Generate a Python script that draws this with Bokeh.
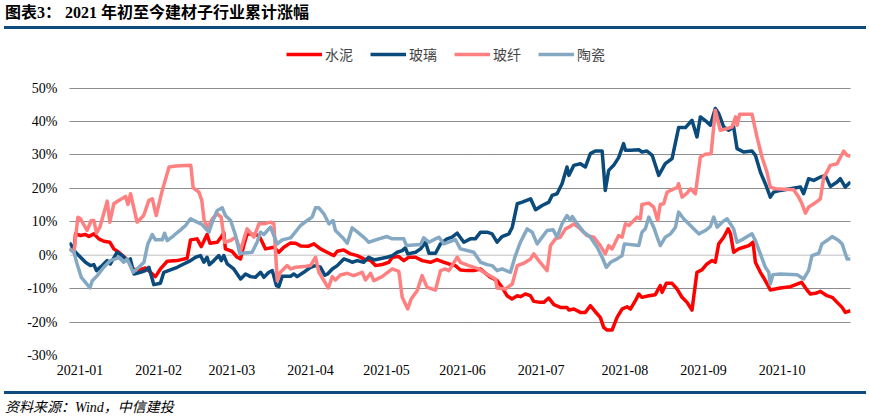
from bokeh.plotting import figure
from bokeh.layouts import column
from bokeh.models import Range1d, FixedTicker, Legend, LegendItem, Span, Div
from bokeh.embed import file_html
from bokeh.resources import INLINE

# ---- data: x = days since 2021-01-01, y = cumulative change (%) ----
cement_day = [3, 4.7, 5.3, 7.2, 9.1, 10.4, 12.3, 14.2, 16.1, 18.4,
              19.9, 21.8, 23.7, 25.6, 26.9, 29.5, 32.0, 33.9, 35.8, 37.7,
              40.3, 44.1, 47.9, 49.2, 51.7, 53.3, 55.5, 56.6, 59.4, 60.9,
              61.9, 62.5, 65.0, 67.0, 68.3, 69.5, 70.8, 73.4, 75.3, 76.6,
              77.8, 81.0, 82.9, 84.8, 87.4, 89.3, 91.2, 94.3, 96.3, 98.8,
              101.3, 103.9, 105.2, 107.7, 110.3, 112.8, 115.3, 117.9, 119.8, 122.3,
              124.9, 126.2, 128.7, 130.6, 132.5, 135.1, 137.6, 140.8, 143.3, 145.9,
              147.8, 150.3, 152.2, 154.8, 157.3, 159.9, 161.8, 163.7, 166.2, 168.1,
              170.0, 171.9, 173.9, 175.1, 177.0, 178.9, 180.2, 182.7, 184.0, 185.9,
              187.9, 190.4, 192.9, 193.6, 195.5, 198.0, 199.9, 201.8, 203.7, 205.6,
              206.9, 208.2, 210.1, 212.0, 213.9, 215.8, 217.1, 219.0, 220.3, 221.5,
              224.1, 226.6, 228.5, 229.2, 230.8, 233.0, 234.9, 236.8, 238.7, 240.6,
              242.5, 244.4, 246.3, 248.3, 249.5, 250.8, 252.7, 254.4, 255.3, 256.5,
              258.4, 260.3, 262.3, 263.9, 264.8, 266.7, 268.6, 270.5, 274.3, 278.2,
              282.4, 284.5, 285.8, 287.7, 289.6, 292.1, 294.1, 296.0, 297.9, 299.1,
              301.1]
cement_pct = [1.9, 1.2, 6.4, 5.9, 6.2, 5.6, 6.4, 4.9, 4.2, 3.9,
              1.9, 0.9, -0.4, -1.6, -4.1, -4.4, -3.8, -5.1, -6.4, -4.1,
              -1.8, -1.6, -0.9, 4.6, 4.9, 2.6, 6.2, 3.6, 3.9, 5.4,
              6.8, 1.9, 1.2, -0.6, -1.1, 2.9, 6.4, 6.2, 5.9, 3.9,
              1.9, 2.4, 0.9, 2.4, 3.7, 3.6, 2.8, 2.7, 3.4, 1.9,
              0.9, -0.1, 1.2, 1.6, 0.4, -0.1, -1.1, -1.6, -3.1, -2.8,
              -2.1, -0.6, -0.4, -1.6, -0.6, -0.6, -1.6, -2.1, -1.3, -2.1,
              -2.6, -3.1, -4.4, -4.6, -4.6, -4.1, -5.4, -6.6, -7.6, -9.6,
              -12.1, -13.1, -12.1, -12.4, -11.6, -12.1, -13.8, -14.1, -14.1, -12.8,
              -14.8, -15.6, -15.6, -16.4, -16.1, -17.1, -17.1, -15.1, -16.9, -18.6,
              -21.6, -22.4, -22.4, -18.6, -16.1, -15.4, -16.1, -13.6, -11.6, -12.6,
              -12.1, -11.8, -9.1, -11.1, -8.4, -8.4, -10.1, -12.6, -14.1, -16.4,
              -5.1, -4.4, -2.6, -1.6, -2.1, 3.4, 5.4, 7.9, 6.4, 0.9,
              1.9, 2.4, 2.9, 3.9, -2.1, -5.1, -7.6, -10.4, -9.8, -9.4,
              -8.1, -10.4, -11.6, -11.4, -10.8, -12.1, -12.6, -14.1, -15.6, -17.1,
              -16.6]

glass_day = [3, 4, 5.3, 7.2, 9.1, 11.0, 12.3, 13.3, 14.0, 15.5,
             17.4, 18.6, 21.2, 23.1, 25.0, 26.2, 27.6, 30.1, 32.0, 33.3,
             35.2, 37.7, 39.0, 41.5, 44.1, 46.6, 49.2, 51.1, 53.0, 54.3,
             55.5, 56.4, 58.1, 60.0, 60.9, 61.9, 63.2, 65.7, 68.3, 70.2,
             72.1, 74.0, 75.9, 77.2, 79.1, 80.4, 82.0, 82.9, 84.2, 87.4,
             88.6, 89.9, 92.4, 95.0, 96.9, 98.8, 100.5, 101.5, 103.3, 105.2,
             107.7, 109.6, 110.9, 112.8, 115.3, 117.2, 119.2, 124.2, 126.2, 128.1,
             130.0, 131.2, 132.1, 135.1, 137.0, 138.9, 140.2, 142.7, 144.6, 147.1,
             149.0, 151.0, 153.5, 156.0, 157.9, 159.9, 162.4, 164.3, 166.2, 168.1,
             170.7, 172.0, 173.9, 175.8, 179.0, 180.9, 183.4, 186.0, 187.2, 189.1,
             191.0, 192.9, 193.6, 195.5, 198.0, 199.9, 201.8, 203.7, 206.3, 207.5,
             208.8, 210.7, 212.6, 214.5, 215.2, 217.1, 220.3, 221.5, 223.4, 225.4,
             227.9, 230.4, 233.0, 235.5, 238.1, 240.6, 242.5, 243.8, 246.3, 247.6,
             249.5, 250.8, 252.7, 254.6, 256.5, 257.8, 260.3, 263.5, 264.8, 266.7,
             268.6, 270.5, 271.8, 274.3, 282.0, 283.2, 285.1, 287.1, 289.6, 291.5,
             293.4, 296.0, 297.2, 299.1, 301.1]
glass_pct = [3.7, 2.7, 0.9, -0.6, -2.1, -3.1, -2.8, -4.6, -4.1, -3.1,
             -1.6, -2.6, 0.9, -0.1, -1.6, -1.1, -5.6, -5.1, -4.6, -3.6,
             -8.8, -8.4, -5.1, -4.4, -3.6, -2.6, -1.6, -0.6, -0.1, -2.1,
             -0.6, -2.8, -1.6, -0.1, -1.6, -0.1, -2.6, -4.1, -7.1, -5.6,
             -6.4, -6.6, -5.1, -6.6, -5.1, -4.6, -9.1, -9.4, -6.3, -6.3,
             -5.6, -6.4, -5.1, -3.6, -3.1, -3.6, -6.0, -5.6, -4.1, -3.1,
             -1.1, -1.6, -2.1, -1.6, -2.1, -0.6, -1.4, -0.6, -0.1, 0.9,
             1.4, 2.2, 0.4, 0.9, 1.9, 3.9, 0.6, 0.6, 3.4, 4.9,
             5.4, 6.6, 3.9, 4.9, 4.9, 6.9, 6.9, 6.4, 3.9, 5.6,
             6.4, 8.4, 15.4, 15.9, 16.9, 13.6, 14.9, 15.9, 17.9, 18.4,
             21.4, 26.4, 23.9, 26.9, 27.4, 26.4, 30.4, 31.2, 31.2, 19.4,
             25.4, 26.9, 29.2, 33.4, 31.4, 31.4, 31.6, 30.9, 31.2, 29.9,
             23.9, 27.4, 28.9, 38.2, 38.2, 40.4, 35.4, 41.4, 39.9, 38.9,
             43.9, 42.4, 38.4, 37.4, 38.4, 31.9, 30.9, 31.2, 29.9, 24.9,
             21.4, 17.4, 18.9, 19.4, 20.4, 18.4, 22.9, 22.4, 23.4, 23.9,
             20.6, 21.9, 22.9, 20.4, 21.9]

fiber_day = [3, 4.7, 6.2, 7.2, 9.7, 11.3, 12.3, 13.3, 14.6, 17.4,
             18.4, 19.9, 21.8, 24.4, 25.3, 26.3, 28.8, 31.3, 33.3, 34.6,
             36.1, 38.4, 41.0, 43.6, 49.3, 50.2, 52.4, 53.5, 54.4, 55.8,
             57.5, 59.4, 60.9, 62.2, 64.5, 66.4, 68.3, 70.2, 70.8, 73.4,
             75.3, 77.2, 79.7, 81.0, 82.3, 83.5, 86.1, 87.4, 89.3, 92.4,
             95.0, 96.9, 98.2, 100.1, 101.8, 103.3, 104.5, 106.4, 109.0, 111.5,
             114.7, 116.0, 117.9, 119.2, 122.3, 126.2, 128.7, 130.0, 132.1, 133.4,
             135.7, 137.6, 139.5, 142.7, 144.6, 146.5, 147.8, 151.0, 152.2, 155.4,
             159.2, 161.1, 165.6, 166.2, 169.4, 172.0, 173.9, 176.4, 179.0, 180.2,
             182.1, 185.3, 186.6, 188.5, 190.4, 192.3, 193.6, 195.5, 197.5, 200.5,
             203.1, 205.6, 207.5, 208.8, 210.1, 212.6, 213.9, 215.2, 216.5, 218.4,
             219.6, 220.9, 221.5, 224.1, 226.0, 227.5, 228.5, 229.8, 231.1, 233.0,
             234.9, 235.5, 236.8, 238.7, 240.0, 241.9, 243.8, 245.7, 247.9, 249.5,
             251.4, 254.0, 255.9, 257.2, 257.8, 258.8, 263.5, 265.4, 267.3, 269.2,
             270.5, 272.4, 279.4, 281.3, 282.6, 283.9, 285.1, 287.1, 289.6, 290.9,
             292.1, 293.4, 296.0, 298.5, 299.8, 301.1]
fiber_pct = [1.9, 0.9, 11.4, 10.9, 7.4, 10.4, 10.4, 6.6, 8.4, 16.2,
             9.9, 15.4, 16.4, 17.6, 15.2, 18.4, 9.9, 11.9, 16.4, 16.9,
             11.9, 19.4, 26.4, 26.7, 26.9, 20.2, 18.9, 16.4, 10.4, 8.4,
             10.9, 12.4, 11.4, 3.9, 4.4, 5.4, 1.4, 6.4, 7.9, 5.4,
             9.4, 9.4, 9.9, 9.4, -7.6, -5.1, -3.1, -4.1, -3.6, -3.4,
             -3.1, -0.6, -5.1, -7.6, -9.8, -6.4, -7.4, -5.9, -5.4, -6.1,
             -5.1, -7.4, -5.4, -7.6, -6.4, -4.1, -4.8, -12.6, -16.1, -13.1,
             -10.6, -6.1, -9.6, -10.4, -4.6, -4.1, -4.6, -0.6, -2.1, -3.1,
             -4.1, -5.1, -7.1, -9.8, -10.1, -8.6, -3.1, -2.4, -1.1, 0.4,
             -1.6, -4.6, 2.9, 4.9, 5.4, 7.9, 8.4, 9.4, 8.2, 5.9,
             5.4, 2.9, 0.4, 2.9, 1.9, 5.9, 5.4, 9.4, 8.9, 10.4,
             11.4, 10.9, 15.2, 15.6, 14.4, 10.4, 15.2, 15.4, 18.9, 19.6,
             20.2, 21.4, 17.4, 18.6, 19.9, 18.4, 29.4, 30.2, 30.4, 43.4,
             37.4, 37.9, 38.4, 41.4, 38.9, 42.2, 42.2, 35.4, 29.4, 24.9,
             20.4, 19.9, 19.6, 17.4, 15.4, 12.6, 14.4, 15.4, 16.9, 23.4,
             24.9, 26.9, 27.4, 31.2, 29.9, 29.6]

ceramic_day = [3, 4.7, 5.9, 7.5, 9.1, 10.8, 11.7, 13.6, 16.1, 18.6,
               20.6, 21.8, 23.7, 25.0, 27.3, 29.5, 31.4, 32.9, 34.6, 35.8,
               38.4, 39.3, 40.3, 42.8, 45.4, 47.3, 49.2, 51.7, 53.6, 56.2,
               57.5, 59.4, 61.3, 62.5, 64.5, 66.4, 68.0, 69.5, 72.7, 74.6,
               75.9, 77.2, 79.7, 82.3, 84.2, 87.4, 91.2, 93.7, 95.6, 96.9,
               98.2, 100.1, 102.0, 103.6, 104.5, 107.1, 109.0, 110.9, 113.4, 116.0,
               117.2, 121.1, 124.2, 126.2, 130.6, 131.6, 137.0, 138.2, 140.2, 142.7,
               144.0, 145.9, 150.3, 152.2, 154.8, 157.3, 159.9, 162.4, 164.3, 166.2,
               168.1, 171.3, 173.2, 175.1, 177.7, 179.6, 181.5, 185.3, 187.6, 189.1,
               191.0, 192.9, 194.2, 194.9, 196.8, 199.3, 201.8, 204.4, 206.3, 207.9,
               209.5, 212.0, 213.9, 214.8, 220.3, 221.5, 222.8, 224.1, 226.0, 227.3,
               228.5, 230.4, 232.4, 234.3, 235.5, 237.4, 240.0, 241.9, 243.2, 245.7,
               247.6, 248.9, 250.2, 252.1, 254.0, 256.5, 257.8, 260.3, 263.5, 264.8,
               266.7, 268.6, 269.9, 270.5, 271.5, 274.3, 280.7, 283.2, 285.1, 286.4,
               289.0, 290.2, 292.1, 294.1, 296.6, 297.9, 299.8, 301.1]
ceramic_pct = [1.9, 0.9, -2.6, -6.6, -8.1, -9.8, -7.6, -6.1, -3.6, -1.6,
               -1.1, -0.6, -2.1, -1.1, -5.1, -3.6, -2.1, 3.4, 6.2, 4.6,
               4.6, 6.6, 4.4, 5.9, 7.6, 8.9, 10.9, 9.9, 9.2, 6.9,
               9.9, 13.4, 14.2, 11.9, 10.4, 5.9, 0.4, 0.7, 0.9, 3.9,
               6.9, 6.2, 8.4, 3.4, 4.6, 5.2, 8.9, 10.4, 11.4, 14.2,
               14.2, 12.4, 9.4, 10.4, 7.4, 5.4, 3.6, 8.2, 6.6, 4.9,
               3.9, 4.9, 5.6, 4.9, 4.9, 2.9, 3.2, 5.2, 3.9, 4.9,
               5.4, 3.4, 4.7, 1.9, 1.4, 0.9, -2.1, -2.8, -3.1, -4.6,
               -4.1, -5.1, -0.1, 3.9, 7.9, 6.9, 3.4, 7.4, 7.6, 5.4,
               9.4, 11.9, 10.4, 11.6, 9.4, 6.9, 5.4, 2.4, -0.6, -3.6,
               -2.1, -1.1, -0.1, 3.4, 2.9, 6.9, 7.9, 11.4, 8.4, 5.4,
               2.9, 5.4, 6.4, 8.4, 12.9, 10.9, 8.9, 7.4, 6.4, 7.4,
               8.6, 11.4, 8.4, 9.9, 10.9, 7.9, 3.9, 4.9, 6.4, 4.4,
               0.4, -3.6, -5.1, -8.6, -5.8, -5.6, -5.8, -7.1, -4.6, -0.1,
               0.6, 3.4, 4.4, 5.6, 4.4, 3.4, -1.1, -1.1]

series_names = ["水泥", "玻璃", "玻纤", "陶瓷"]
tick_days = [7, 37, 65, 95, 124, 153, 183, 215, 245, 275]
tick_labels = ["2021-01", "2021-02", "2021-03", "2021-04", "2021-05",
               "2021-06", "2021-07", "2021-08", "2021-09", "2021-10"]
y_ticks = [-30, -20, -10, 0, 10, 20, 30, 40, 50]

title_text = "图表3： 2021 年初至今建材子行业累计涨幅"
source_text = "资料来源：Wind，中信建投"

# ---- styling ----
W = 869
H_TOP, H_MAIN, H_BOT = 40, 344, 34
FONT_CSS = "'Liberation Serif', 'Noto Sans CJK SC'"
colors = ["#FF0000", "#0A4B7C", "#FF8080", "#85A8C3"]
BAR = "#0E4B7E"

top_html = (
    f'<div style="position:relative;width:{W}px;height:{H_TOP}px;margin:0;padding:0;">'
    f'<div style="position:absolute;left:5px;top:4px;font-family:{FONT_CSS};'
    f'font-weight:bold;font-size:16px;line-height:18px;color:#000;white-space:nowrap;">'
    f'{title_text}</div>'
    f'<div style="position:absolute;left:4px;top:25.5px;width:862px;height:3px;'
    f'background:{BAR};"></div></div>'
)
bot_html = (
    f'<div style="position:relative;width:{W}px;height:{H_BOT}px;margin:0;padding:0;">'
    f'<div style="position:absolute;left:4px;top:6.5px;width:862px;height:3px;'
    f'background:{BAR};"></div>'
    f'<div style="position:absolute;left:5px;top:16px;font-family:{FONT_CSS};'
    f'font-style:italic;font-size:14px;line-height:16px;color:#000;white-space:nowrap;">'
    f'{source_text}</div></div>'
)
top = Div(text=top_html, width=W, height=H_TOP, margin=0)
bot = Div(text=bot_html, width=W, height=H_BOT, margin=0)

# main chart: the frame reaches up to the header so the legend sits inside it
p = figure(width=W, height=H_MAIN, output_backend="svg", toolbar_location=None,
           x_range=Range1d(3, 301.1), y_range=Range1d(-30, 64.26),
           min_border_left=69, min_border_right=19,
           min_border_top=0, min_border_bottom=29)
p.outline_line_color = None
p.xgrid.visible = False
p.ygrid.ticker = FixedTicker(ticks=[t for t in y_ticks if t != 0])
p.ygrid.grid_line_color = "#1A1A1A"
p.ygrid.grid_line_dash = "1 1"
p.ygrid.grid_line_width = 1

p.add_layout(Span(location=0, dimension="width", line_color="#D4D4D4",
                  line_width=1.5, level="underlay"))

p.yaxis.ticker = FixedTicker(ticks=y_ticks)
p.yaxis.major_label_overrides = {t: f"{t}%" for t in y_ticks}
p.xaxis.ticker = FixedTicker(ticks=tick_days)
p.xaxis.major_label_overrides = dict(zip(tick_days, tick_labels))
for ax in (p.xaxis[0], p.yaxis[0]):
    ax.axis_line_color = None
    ax.major_tick_line_color = None
    ax.minor_tick_line_color = None
    ax.major_tick_out = 0
    ax.major_tick_in = 0
    ax.minor_tick_out = 0
    ax.major_label_text_font = FONT_CSS
    ax.major_label_text_font_size = "14px"
    ax.major_label_text_color = "#000000"
p.yaxis.major_label_standoff = 12
p.xaxis.major_label_standoff = 9

data = [(cement_day, cement_pct), (glass_day, glass_pct),
        (fiber_day, fiber_pct), (ceramic_day, ceramic_pct)]
items = []
for (xs, ys), name, c in zip(data, series_names, colors):
    r = p.line(xs, ys, line_color=c, line_width=3.5, line_join="round")
    items.append(LegendItem(label=name, renderers=[r]))

legend = Legend(items=items, orientation="horizontal", location=(217, 291),
                spacing=17, glyph_width=36, glyph_height=14, label_standoff=3,
                padding=0, margin=0, border_line_color=None,
                background_fill_alpha=0, label_text_font="Noto Sans CJK SC",
                label_text_font_size="14px")
p.add_layout(legend, "center")

layout = column(top, p, bot, spacing=0)
open("out.html", "w").write(file_html(layout, INLINE))
